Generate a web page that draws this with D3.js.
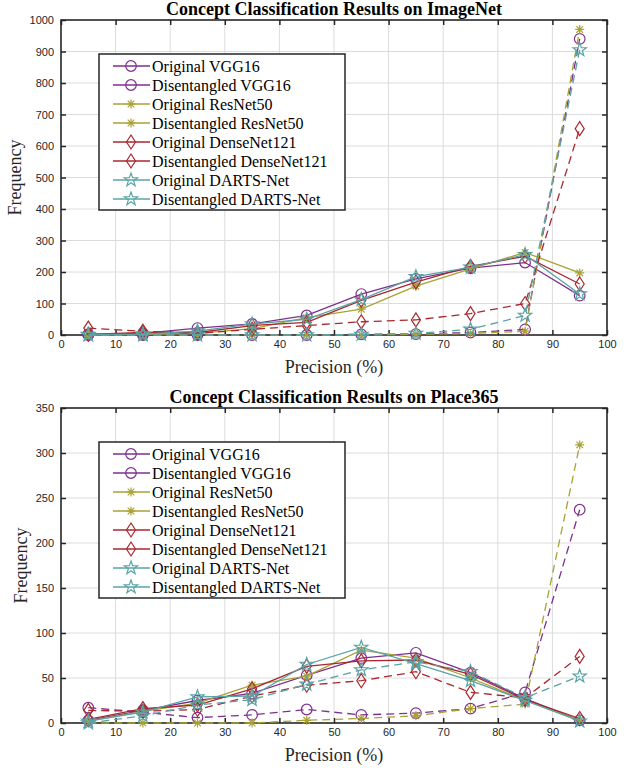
<!DOCTYPE html>
<html>
<head>
<meta charset="utf-8">
<script src="https://cdn.jsdelivr.net/npm/d3@7"></script>
<style>
  body { margin: 0; background: #fff; }
  svg { display: block; }
  .tick text { font-family: "Liberation Sans", Arial, sans-serif; font-size: 11px; fill: #262626; }
</style>
</head>
<body>
<svg id="chart" width="625" height="768"></svg>
<script>
// bin centres (precision %) and axis ticks
const precision = [5, 15, 25, 35, 45, 55, 65, 75, 85, 95];
const xTicks = [0, 10, 20, 30, 40, 50, 60, 70, 80, 90, 100];
const imagenetTicks = [0, 100, 200, 300, 400, 500, 600, 700, 800, 900, 1000];
const placeTicks = [0, 50, 100, 150, 200, 250, 300, 350];

const seriesNames = [
    'Original VGG16', 'Disentangled VGG16',
    'Original ResNet50', 'Disentangled ResNet50',
    'Original DenseNet121', 'Disentangled DenseNet121',
    'Original DARTS-Net', 'Disentangled DARTS-Net'
];

// ImageNet frequencies
const inOrigVGG   = [2, 5, 22, 35, 62, 130, 178, 212, 230, 125];
const inDisVGG    = [0, 0, 0, 0, 0, 2, 3, 8, 18, 940];
const inOrigRes   = [0, 2, 5, 20, 55, 82, 155, 210, 262, 197];
const inDisRes    = [0, 0, 0, 0, 0, 0, 2, 5, 12, 970];
const inOrigDense = [2, 8, 8, 30, 40, 110, 168, 218, 250, 162];
const inDisDense  = [22, 12, 5, 18, 30, 42, 48, 68, 100, 655];
const inOrigDarts = [2, 3, 12, 35, 50, 112, 185, 215, 255, 130];
const inDisDarts  = [0, 0, 0, 0, 0, 2, 5, 18, 62, 905];

// Place365 frequencies
const plOrigVGG   = [3, 14, 25, 33, 53, 72, 78, 56, 27, 3];
const plDisVGG    = [17, 12, 6, 9, 15, 9, 11, 16, 34, 237];
const plOrigRes   = [2, 13, 22, 42, 52, 81, 72, 50, 25, 3];
const plDisRes    = [0, 0, 0, 0, 3, 5, 8, 16, 21, 309];
const plOrigDense = [4, 16, 20, 38, 63, 69, 70, 54, 26, 5];
const plDisDense  = [14, 13, 15, 30, 42, 47, 57, 34, 28, 74];
const plOrigDarts = [2, 12, 29, 30, 65, 84, 66, 47, 25, 2];
const plDisDarts  = [0, 8, 20, 26, 43, 59, 68, 57, 28, 52];

const colors  = ['#7e2f8e', '#7e2f8e', '#a9a232', '#a9a232', '#a8282e', '#a8282e', '#5aa3a6', '#5aa3a6'];
const markers = ['circle', 'circle', 'asterisk', 'asterisk', 'diamond', 'diamond', 'star', 'star'];

const svg = d3.select('#chart');
const serif = '"Liberation Serif", "Times New Roman", serif';

// draw a marker glyph centred at 0,0 inside group g
function drawMarker(g, type, color) {
    if (type === 'circle') {
        g.append('circle').attr('r', 5.3).attr('fill', 'none').attr('stroke', color).attr('stroke-width', 1.2);
    } else if (type === 'diamond') {
        g.append('path').attr('d', 'M0,-7L4.5,0L0,7L-4.5,0Z')
            .attr('fill', 'none').attr('stroke', color).attr('stroke-width', 1.2);
    } else if (type === 'star') {
        const pts = [];
        for (let i = 0; i < 10; i++) {
            const r = i % 2 === 0 ? 7 : 2.8;
            const a = -Math.PI / 2 + i * Math.PI / 5;
            pts.push([r * Math.cos(a), r * Math.sin(a)]);
        }
        g.append('path').attr('d', 'M' + pts.join('L') + 'Z')
            .attr('fill', 'none').attr('stroke', color).attr('stroke-width', 1.2);
    } else {
        const s = 4.5, d = 3.3;
        g.append('path').attr('d', `M0,${-s}V${s}M${-s},0H${s}M${-d},${-d}L${d},${d}M${-d},${d}L${d},${-d}`)
            .attr('stroke', color).attr('stroke-width', 1.2);
    }
}

function drawPanel(cfg) {
    const { top, bottom, left, right, yMax, yTicks, title, series, yLabelX, legendTop } = cfg;
    const g = svg.append('g');

    const x = d3.scaleLinear().domain([0, 100]).range([left, right]);
    const y = d3.scaleLinear().domain([0, yMax]).range([bottom, top]);

    // grid
    g.append('g').selectAll('line').data(xTicks.slice(1, -1)).join('line')
        .attr('x1', d => x(d)).attr('x2', d => x(d)).attr('y1', top).attr('y2', bottom)
        .attr('stroke', '#dcdcdc').attr('stroke-width', 1);
    g.append('g').selectAll('line').data(yTicks.slice(1, -1)).join('line')
        .attr('y1', d => y(d)).attr('y2', d => y(d)).attr('x1', left).attr('x2', right)
        .attr('stroke', '#dcdcdc').attr('stroke-width', 1);

    // axes with inward ticks (mirrored top/right)
    const fmt = d3.format('d');
    const ax = g.append('g').attr('transform', `translate(0,${bottom})`)
        .call(d3.axisBottom(x).tickValues(xTicks).tickFormat(fmt).tickSizeInner(-5).tickSizeOuter(0).tickPadding(7));
    g.append('g').attr('transform', `translate(${left},0)`)
        .call(d3.axisLeft(y).tickValues(yTicks).tickFormat(fmt).tickSizeInner(-5).tickSizeOuter(0).tickPadding(7));
    g.append('g').attr('transform', `translate(0,${top})`)
        .call(d3.axisTop(x).tickValues(xTicks).tickSizeInner(-5).tickSizeOuter(0).tickFormat(''));
    g.append('g').attr('transform', `translate(${right},0)`)
        .call(d3.axisRight(y).tickValues(yTicks).tickSizeInner(-5).tickSizeOuter(0).tickFormat(''));
    g.selectAll('.domain').remove();
    g.selectAll('.tick line').attr('stroke', '#262626').attr('stroke-width', 1.5);
    ax.selectAll('.tick text').attr('dy', '0.5em');

    // frame
    g.append('rect').attr('x', left).attr('y', top).attr('width', right - left).attr('height', bottom - top)
        .attr('fill', 'none').attr('stroke', '#262626').attr('stroke-width', 1.6);

    // series
    const line = d3.line().x((d, i) => x(precision[i])).y(d => y(d));
    series.forEach((vals, k) => {
        const s = g.append('g');
        s.append('path').datum(vals).attr('d', line)
            .attr('fill', 'none').attr('stroke', colors[k]).attr('stroke-width', 1.3)
            .attr('stroke-dasharray', k % 2 ? '8,5' : null);
        vals.forEach((v, i) => {
            drawMarker(s.append('g').attr('transform', `translate(${x(precision[i])},${y(v)})`), markers[k], colors[k]);
        });
    });

    // title and axis labels
    svg.append('text').attr('x', (left + right) / 2).attr('y', top - 5)
        .attr('text-anchor', 'middle').attr('font-family', serif).attr('font-weight', 'bold')
        .attr('font-size', 18).attr('fill', '#000').text(title);
    svg.append('text').attr('transform', `translate(${yLabelX},${(top + bottom) / 2}) rotate(-90)`)
        .attr('text-anchor', 'middle').attr('font-family', serif).attr('font-size', 18)
        .attr('fill', '#262626').text('Frequency');
    svg.append('text').attr('x', (left + right) / 2).attr('y', bottom + 38)
        .attr('text-anchor', 'middle').attr('font-family', serif).attr('font-size', 18)
        .attr('fill', '#262626').text('Precision (%)');

    // legend
    const lg = g.append('g');
    const lx = 99, lw = 246, rowH = 19;
    lg.append('rect').attr('x', lx).attr('y', legendTop).attr('width', lw).attr('height', 156)
        .attr('fill', '#fff').attr('stroke', '#262626').attr('stroke-width', 1.5);
    seriesNames.forEach((name, k) => {
        const cy = legendTop + 12 + k * rowH;
        const row = lg.append('g');
        row.append('line').attr('x1', lx + 14).attr('x2', lx + 51).attr('y1', cy).attr('y2', cy)
            .attr('stroke', colors[k]).attr('stroke-width', 1.3);
        drawMarker(row.append('g').attr('transform', `translate(${lx + 32},${cy})`), markers[k], colors[k]);
        row.append('text').attr('x', lx + 53).attr('y', cy).attr('dy', '0.35em')
            .attr('font-family', serif).attr('font-size', 16).attr('fill', '#000').text(name);
    });
}

drawPanel({
    top: 20, bottom: 335, left: 61, right: 607, yMax: 1000, yTicks: imagenetTicks,
    title: 'Concept Classification Results on ImageNet', yLabelX: 21, legendTop: 54,
    series: [inOrigVGG, inDisVGG, inOrigRes, inDisRes, inOrigDense, inDisDense, inOrigDarts, inDisDarts]
});

drawPanel({
    top: 408, bottom: 723, left: 61, right: 607, yMax: 350, yTicks: placeTicks,
    title: 'Concept Classification Results on Place365', yLabelX: 27, legendTop: 442,
    series: [plOrigVGG, plDisVGG, plOrigRes, plDisRes, plOrigDense, plDisDense, plOrigDarts, plDisDarts]
});
</script>
</body>
</html>
